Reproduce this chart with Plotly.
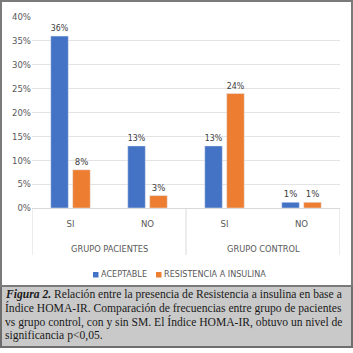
import plotly.graph_objects as go

groups = ["GRUPO PACIENTES", "GRUPO CONTROL"]
subcats = ["SI", "NO", "SI", "NO"]
aceptable = [36, 13, 13, 1.2]
resistencia = [8, 2.6, 24, 1.2]
aceptable_lbl = ["36%", "13%", "13%", "1%"]
resistencia_lbl = ["8%", "3%", "24%", "1%"]
series_names = ["ACEPTABLE", "RESISTENCIA A INSULINA"]
series_colors = ["#4472C4", "#ED7D31"]
ytick_vals = [0, 5, 10, 15, 20, 25, 30, 35, 40]
ytick_text = ["0%", "5%", "10%", "15%", "20%", "25%", "30%", "35%", "40%"]
caption_lines = [
    "<b><i>Figura 2.</i></b> Relación entre la presencia de Resistencia a insulina en base a",
    "Índice HOMA-IR. Comparación de frecuencias entre grupo de pacientes",
    "vs grupo control, con y sin SM. El Índice HOMA-IR, obtuvo un nivel de",
    "significancia p<0,05.",
]

W, H = 353, 353
L, R, T, B = 32, 340, 17, 208  # plot area in px

def px(x):
    return (x - L) / (R - L)

def py(y):
    return (B - y) / (B - T)

font_name = "Liberation Sans Narrow, DejaVu Sans Condensed, Arial Narrow, sans-serif"
positions = list(range(len(subcats)))

fig = go.Figure()
for vals, lbls, name, col in [(aceptable, aceptable_lbl, series_names[0], series_colors[0]),
                              (resistencia, resistencia_lbl, series_names[1], series_colors[1])]:
    fig.add_trace(go.Bar(
        x=positions, y=vals, name=name, marker_color=col,
        text=lbls, textposition="outside",
        textfont=dict(color="#404040", size=9.5, family=font_name), cliponaxis=False,
        showlegend=False,
    ))

shapes = [
    # caption background
    dict(type="rect", xref="paper", yref="paper", x0=px(1), x1=px(352), y0=py(347), y1=py(286),
         fillcolor="#c9c9c9", line=dict(color="#6e6e6e", width=2), layer="below"),
    # outer chart border
    dict(type="rect", xref="paper", yref="paper", x0=px(1), x1=px(352), y0=py(286), y1=py(1),
         fillcolor="rgba(0,0,0,0)", line=dict(color="#7a7a7a", width=2), layer="above"),
]
# category dividers (at group boundaries, in data coordinates)
for xb in [-0.5, 1.5, 3.5]:
    shapes.append(dict(type="line", xref="x", yref="paper", x0=xb, x1=xb, y0=py(255), y1=0,
                       line=dict(color="#d9d9d9", width=1)))

annotations = []
# group labels
for i, g in enumerate(groups):
    annotations.append(dict(text=g, xref="x", yref="paper", x=2 * i + 0.5, y=py(248),
                            xanchor="center", yanchor="middle", showarrow=False,
                            font=dict(family=font_name, size=9.2, color="#595959")))
# manual legend
leg_x = [93, 156]
for lx, name, col in zip(leg_x, series_names, series_colors):
    shapes.append(dict(type="rect", xref="paper", yref="paper", x0=px(lx), x1=px(lx + 5.5),
                       y0=py(277.5), y1=py(272), fillcolor=col, line=dict(width=0)))
    annotations.append(dict(text=name, xref="paper", yref="paper", x=px(lx + 6), y=py(274),
                            xanchor="left", yanchor="middle", showarrow=False,
                            font=dict(family=font_name, size=9, color="#595959")))
# caption
line_y = [294.5, 308, 321.5, 335]
for txt, yy in zip(caption_lines, line_y):
    annotations.append(dict(
        text=txt, xref="paper", yref="paper", x=px(3), y=py(yy),
        xanchor="left", yanchor="middle", showarrow=False,
        font=dict(family="Liberation Serif, Times New Roman, serif", size=11.6, color="#1a1a1a"),
    ))

fig.update_layout(
    width=W, height=H,
    margin=dict(l=L, r=W - R, t=T, b=H - B),
    paper_bgcolor="white", plot_bgcolor="white",
    barmode="group", bargap=0.43, bargroupgap=0.2,
    showlegend=False,
    shapes=shapes, annotations=annotations,
    font=dict(family=font_name, color="#595959"),
)
fig.update_yaxes(range=[0, 40], tickvals=ytick_vals, ticktext=ytick_text,
                 showgrid=True, gridcolor="#e3e3e3", gridwidth=1, zeroline=False,
                 tickfont=dict(size=9.5, color="#595959", family=font_name), showline=False)
fig.update_xaxes(range=[-0.5, 3.5], tickvals=positions, ticktext=subcats,
                 tickfont=dict(size=9.5, color="#595959", family=font_name),
                 showline=True, linecolor="#d9d9d9", linewidth=1, showgrid=False,
                 ticks="outside", ticklen=7, tickcolor="rgba(0,0,0,0)")

fig.write_html("out.html")
